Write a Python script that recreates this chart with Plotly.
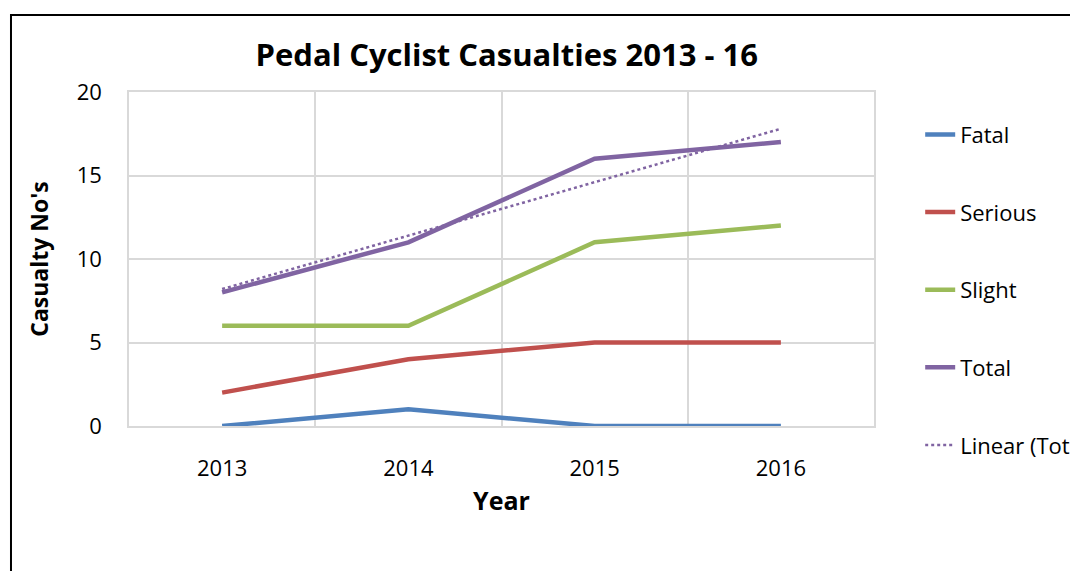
import plotly.graph_objects as go

# data
years = ["2013", "2014", "2015", "2016"]
fatal = [0, 1, 0, 0]
serious = [2, 4, 5, 5]
slight = [6, 6, 11, 12]
total = [8, 11, 16, 17]
linear_total = [8.2, 11.4, 14.6, 17.8]

colors = {"Fatal": "#4f81bd", "Serious": "#c0504d", "Slight": "#9bbb59", "Total": "#8064a2"}
FONT = "Open Sans, Liberation Sans, sans-serif"

fig = go.Figure()
for name, vals in [("Fatal", fatal), ("Serious", serious), ("Slight", slight), ("Total", total)]:
    fig.add_trace(go.Scatter(
        x=years, y=vals, name=name, mode="lines", legendgroup=name,
        line=dict(color=colors[name], width=4.5),
    ))
fig.add_trace(go.Scatter(
    x=years, y=linear_total, name="Linear (Total)", mode="lines", legendgroup="lin",
    line=dict(color="#8064a2", width=2.5, dash="dot"),
))

grid = "#d9d9d9"
fig.update_xaxes(
    type="category", range=[-0.5, 3.5], tickson="boundaries", ticks="",
    showgrid=True, gridcolor=grid, gridwidth=1.5,
    showline=True, mirror=True, linecolor=grid, linewidth=1.5,
    ticklabelstandoff=22, tickfont=dict(size=22, color="black"),
    title=dict(text="<b>Year</b>", font=dict(size=25, color="black"), standoff=11),
)
fig.update_yaxes(
    range=[0, 20], dtick=5, showgrid=True, gridcolor=grid, gridwidth=1.5,
    showline=True, mirror=True, linecolor=grid, linewidth=1.5, zeroline=False,
    ticklabelstandoff=21, tickfont=dict(size=22, color="black"),
    title=dict(text="<b>Casualty No's</b>", font=dict(size=23, color="black"), standoff=22),
)

# outer chart frame (cut off at right/bottom like the reference)
fig.add_shape(type="rect", xref="paper", yref="paper", x0=-0.1584, y0=-0.6, x1=1.5, y1=1.2305,
              line=dict(color="black", width=2), layer="below")

# page body adds a small margin, so the figure is a bit smaller than the window
fig.update_layout(
    width=1070, height=563, plot_bgcolor="white", paper_bgcolor="white",
    margin=dict(l=121, r=204, t=84, b=145, autoexpand=False),
    font=dict(family=FONT, color="black"),
    title=dict(text="<b>Pedal Cyclist Casualties 2013 - 16</b>", font=dict(size=31, color="black"),
               x=0.507, xref="paper", xanchor="center", y=0.9165, yref="container", yanchor="middle"),
    legend=dict(x=1.062, xanchor="left", y=0.935, yanchor="top", font=dict(size=22),
                tracegroupgap=46, bgcolor="rgba(0,0,0,0)", maxheight=600),
    showlegend=True,
)

fig.write_html("out.html")
